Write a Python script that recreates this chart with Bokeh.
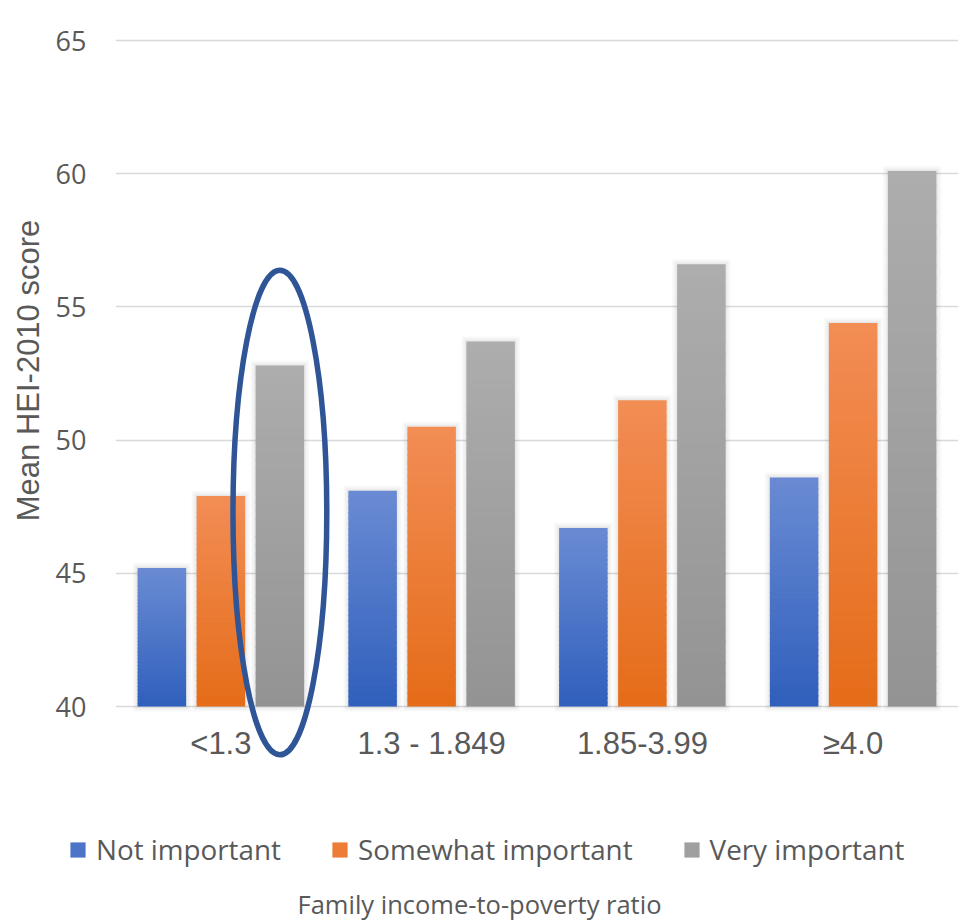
import numpy as np
from bokeh.plotting import figure
from bokeh.layouts import column, row
from bokeh.models import (ColumnDataSource, FactorRange, FixedTicker, Legend,
                          LegendItem, Label, Range1d)
from bokeh.transform import dodge
from bokeh.core.properties import value
from bokeh.embed import file_html
from bokeh.resources import INLINE

# ---- data -------------------------------------------------------------
categories = ["<1.3", "1.3 - 1.849", "1.85-3.99", "≥4.0"]
not_important = [45.2, 48.1, 46.7, 48.6]
somewhat_important = [47.9, 50.5, 51.5, 54.4]
very_important = [52.8, 53.7, 56.6, 60.1]
series_names = ["Not important", "Somewhat important", "Very important"]
y_ticks = [40, 45, 50, 55, 60, 65]
y_title = "Mean HEI-2010 score"
x_title = "Family income-to-poverty ratio"
highlight_category = "<1.3"

# ---- styling ----------------------------------------------------------
BASE = 40                     # bars rise from the axis floor
N_STEPS = 40                  # slices used to paint the vertical gradient
gradients = [("#6a8bd3", "#2f5fbc"),   # (top, bottom)
             ("#f28d55", "#e56c18"),
             ("#adadad", "#939393")]
offsets = [-0.28, 0.0, 0.28]
bar_width = 0.23
text_grey = "#595959"
PX_X = 1 / 210.75             # one pixel in category units
PX_Y = 1 / 26.64              # one pixel in score units


def mix(c_from, c_to, t):
    a = [int(c_from[i:i + 2], 16) for i in (1, 3, 5)]
    b = [int(c_to[i:i + 2], 16) for i in (1, 3, 5)]
    return "#" + "".join(f"{round(x + (y - x) * t):02x}" for x, y in zip(a, b))


def blank(width, height):
    """A bare canvas (no axes, grid or outline) used for titles and legend."""
    f = figure(width=width, height=height, output_backend="svg",
               toolbar_location=None, x_axis_location=None,
               y_axis_location=None, min_border=0,
               x_range=Range1d(0, width), y_range=Range1d(0, height))
    f.outline_line_color = None
    f.grid.visible = False
    return f


# ---- main chart -------------------------------------------------------
p = figure(x_range=FactorRange(factors=categories, range_padding=0),
           y_range=(37.41, 65.49),
           width=908, height=775, output_backend="svg", toolbar_location=None,
           x_axis_location=None,
           min_border_left=65, min_border_right=0,
           min_border_top=27, min_border_bottom=0)
p.outline_line_color = None

p.yaxis.ticker = FixedTicker(ticks=y_ticks)
p.yaxis.axis_line_color = None
p.yaxis.major_tick_line_color = None
p.yaxis.minor_tick_line_color = None
p.yaxis.major_label_standoff = 23
p.yaxis.major_label_text_font = "Open Sans"
p.yaxis.major_label_text_font_size = "27px"
p.yaxis.major_label_text_color = text_grey

p.xgrid.visible = False
p.ygrid.ticker = FixedTicker(ticks=y_ticks)
p.ygrid.grid_line_color = "#d9d9d9"
p.ygrid.grid_line_width = 1.6

all_series = [not_important, somewhat_important, very_important]

# soft glow behind every bar
for s, vals in enumerate(all_series):
    vals = np.array(vals, dtype=float)
    for grow in (5.0, 3.5, 2.0, 1.0):
        src = ColumnDataSource(dict(cat=categories, top=vals + grow * PX_Y))
        p.vbar(x=dodge("cat", offsets[s], range=p.x_range),
               bottom=BASE - grow * PX_Y, top="top",
               width=bar_width + 2 * grow * PX_X, source=src,
               fill_color="black", fill_alpha=0.022, line_color=None)

# gradient bars: thin horizontal slices, each overlapping the one below by
# a pixel so no seams show
mid_colours = []
for s, vals in enumerate(all_series):
    vals = np.array(vals, dtype=float)
    top_c, bot_c = gradients[s]
    for k in range(N_STEPS):
        t0, t1 = k / N_STEPS, (k + 1) / N_STEPS
        lo = np.maximum(BASE, BASE + (vals - BASE) * t0 - 1.2 * PX_Y)
        src = ColumnDataSource(dict(cat=categories, bottom=lo,
                                    top=BASE + (vals - BASE) * t1))
        col = mix(bot_c, top_c, (k + 0.5) / N_STEPS)
        p.vbar(x=dodge("cat", offsets[s], range=p.x_range),
               bottom="bottom", top="top", width=bar_width, source=src,
               fill_color=col, line_color=None)
    mid_colours.append(mix(bot_c, top_c, 0.5))

# highlight ring around the "very important" bar of the lowest income group
ring = ColumnDataSource(dict(cat=[highlight_category], y=[47.28],
                             w=[0.445], h=[18.2]))
p.ellipse(x=dodge("cat", 0.28, range=p.x_range), y="y", width="w",
          height="h", source=ring, fill_color=None,
          line_color="#2f5597", line_width=5.5)

# category labels under the bars
cat_src = ColumnDataSource(dict(cat=categories, y=[38.62] * len(categories)))
p.text(x="cat", y="y", text="cat", source=cat_src,
       text_align="center", text_baseline="middle",
       text_font=value("Liberation Sans"), text_font_size="31px",
       text_color=text_grey)

# ---- y title strip ----------------------------------------------------
left = blank(50, 775)
left.add_layout(Label(x=28, y=405, x_units="screen", y_units="screen",
                      angle=90, angle_units="deg", text=y_title,
                      text_align="center", text_baseline="middle",
                      text_font="Liberation Sans", text_font_size="31px",
                      text_color=text_grey))

# ---- legend and x title strip -----------------------------------------
bottom = blank(958, 147)
swatches = []
for name, col in zip(series_names, mid_colours):
    # off-canvas stand-in whose style feeds the legend swatch
    r = bottom.vbar(x=[-100], top=[-100], bottom=[-101], width=1,
                    fill_color=col, line_color=None)
    swatches.append(LegendItem(label=name, renderers=[r]))
legend = Legend(items=swatches, orientation="horizontal",
                location=(68, 54), padding=0, spacing=49, margin=0,
                glyph_width=19, glyph_height=19, label_standoff=9,
                border_line_color=None, background_fill_alpha=0,
                label_text_font="Open Sans", label_text_font_size="27.8px",
                label_text_color=text_grey)
bottom.add_layout(legend)
bottom.add_layout(Label(x=479, y=19, x_units="screen", y_units="screen",
                        text=x_title, text_align="center",
                        text_baseline="middle", text_font="Open Sans",
                        text_font_size="25.5px", text_color=text_grey))

layout = column(row(left, p, spacing=0), bottom, spacing=0)
open("out.html", "w").write(file_html(layout, INLINE))
